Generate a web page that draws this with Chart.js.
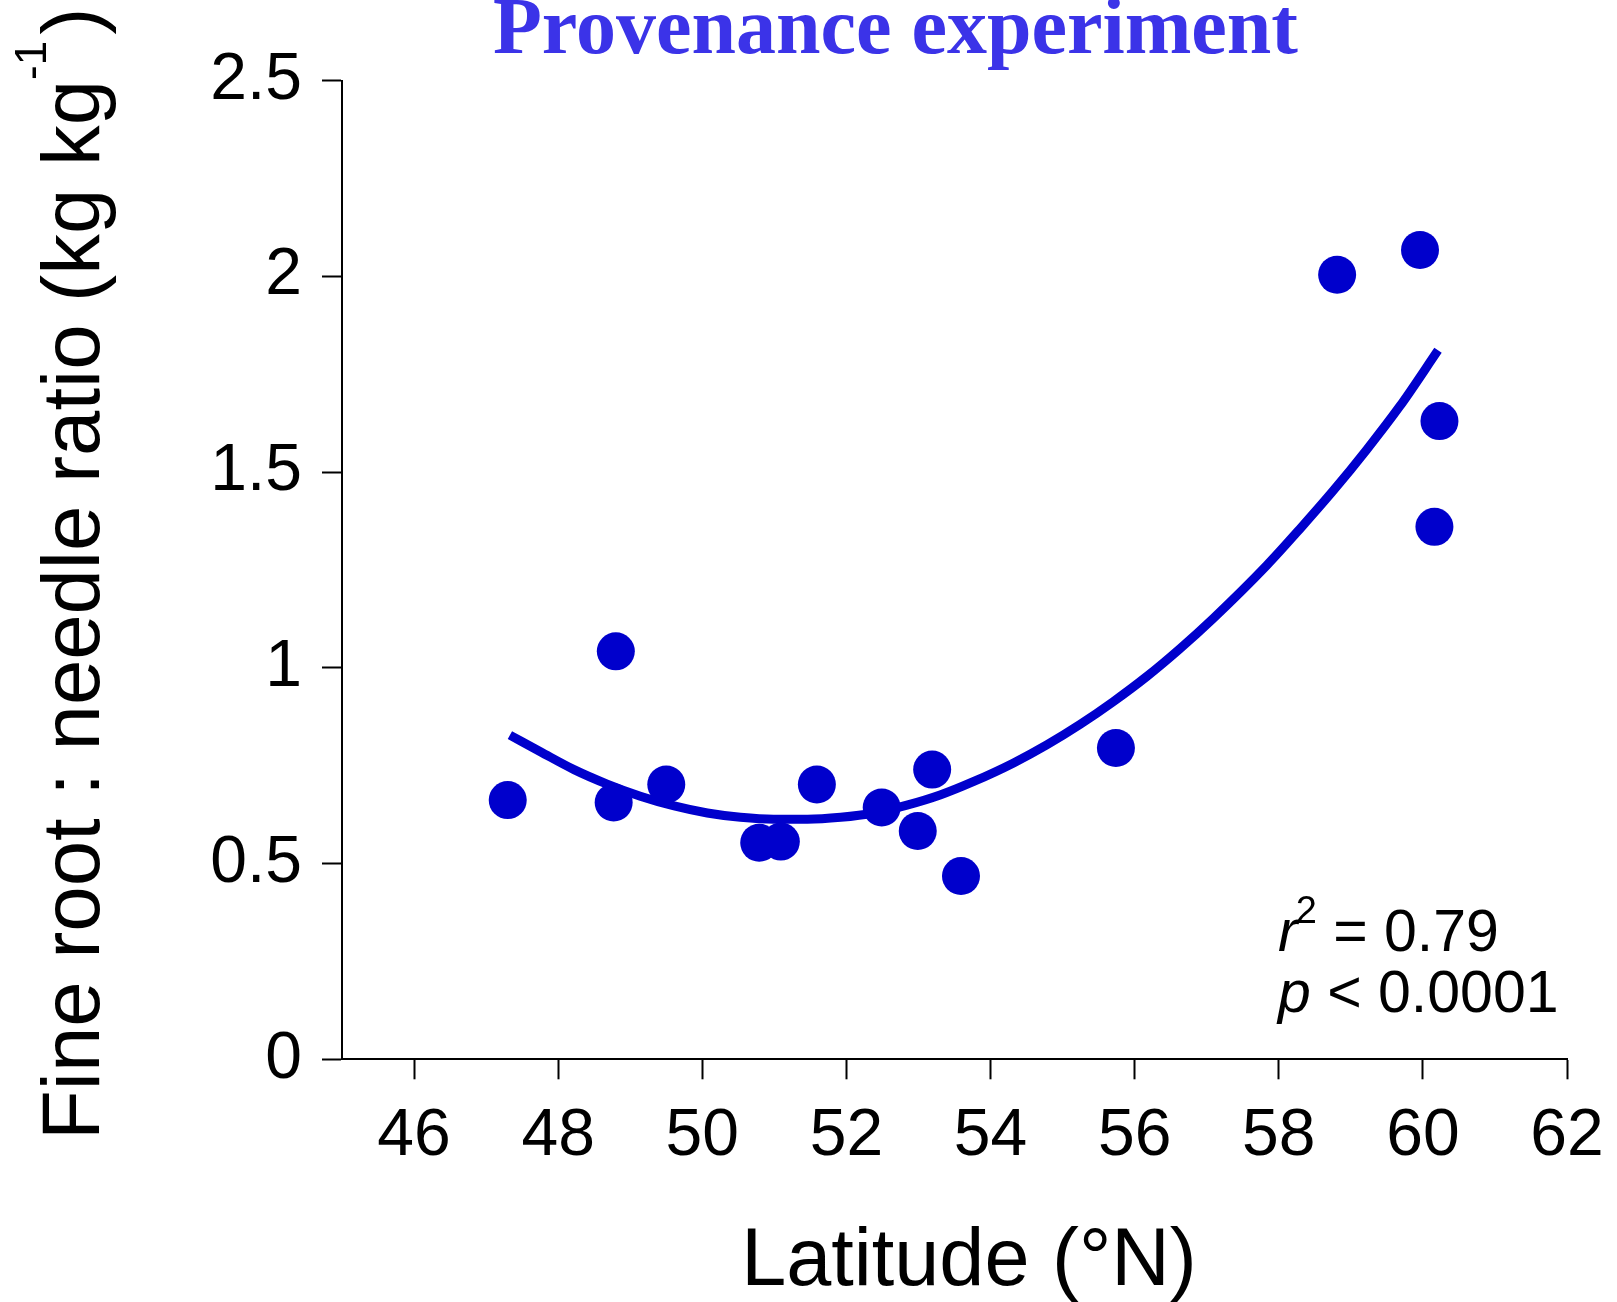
<!DOCTYPE html>
<html>
<head>
<meta charset="utf-8">
<title>Provenance experiment</title>
<script src="https://cdn.jsdelivr.net/npm/chart.js@4.4.1/dist/chart.umd.min.js"></script>
<style>
  html, body { margin: 0; padding: 0; background: #fff; }
  #wrap { width: 1617px; height: 1302px; }
</style>
</head>
<body>
<div id="wrap"><canvas id="chart" width="1617" height="1302"></canvas></div>
<script>
// Observed provenances
const latitude = [47.30, 48.80, 48.77, 49.50, 50.79, 51.09, 51.59, 52.49, 52.99, 53.19, 53.59, 55.74, 58.81, 59.96, 60.23, 60.16];
const ratio    = [0.662, 1.042, 0.656, 0.702, 0.553, 0.556, 0.702, 0.643, 0.583, 0.740, 0.468, 0.795, 2.004, 2.067, 1.630, 1.360];

// Fitted curve
const fitLat   = [47.33, 47.76, 48.22, 48.68, 49.14, 49.61, 50.07, 50.53, 50.99, 51.46, 51.92, 52.38, 52.84, 53.30, 53.76, 54.32, 54.78, 55.24, 55.70, 56.17, 56.63, 57.09, 57.83, 58.29, 58.75, 59.22, 59.68, 60.21];
const fitRatio = [0.828, 0.785, 0.740, 0.703, 0.672, 0.647, 0.629, 0.618, 0.613, 0.613, 0.618, 0.629, 0.649, 0.675, 0.709, 0.757, 0.803, 0.855, 0.913, 0.978, 1.049, 1.126, 1.261, 1.354, 1.451, 1.557, 1.668, 1.811];

const xTicks = [46, 48, 50, 52, 54, 56, 58, 60, 62];
const yTicks = [0, 0.5, 1, 1.5, 2, 2.5];

const titleText = "Provenance experiment";
const xTitle = "Latitude (°N)";
const yTitle = "Fine root : needle ratio (kg kg";
const yTitleSup = "-1";
const yTitleEnd = ")";
const statR2 = "0.79";
const statP = "0.0001";

const C = {
  point: "#0000CC",
  title: "#3B33E8",
  ink:   "#000000",
};
const SANS = "'Liberation Sans', Arial, sans-serif";
const SERIF = "'Liberation Serif', 'Times New Roman', serif";

// chart area box (px) so the axes land where the original has them
const AREA = { left: 342, right: 1567, top: 80.5, bottom: 1059.3 };
const W = 1617, H = 1302;

// Titles and the r²/p note are drawn by hand: Chart.js has no superscripts
const textPlugin = {
  id: "figText",
  afterDraw(chart) {
    const ctx = chart.ctx;
    ctx.save();
    ctx.textBaseline = "alphabetic";
    ctx.textAlign = "left";

    // title
    ctx.fillStyle = C.title;
    ctx.font = `bold 80px ${SERIF}`;
    ctx.fillText(titleText, 493, 52.7);

    ctx.fillStyle = C.ink;

    // x title
    ctx.font = `81px ${SANS}`;
    ctx.textAlign = "center";
    ctx.fillText(xTitle, 969, 1285);
    ctx.textAlign = "left";

    // y title, rotated
    ctx.save();
    ctx.translate(99, 1140);
    ctx.rotate(-Math.PI / 2);
    ctx.font = `81.5px ${SANS}`;
    ctx.fillText(yTitle, 0, 0);
    let dx = ctx.measureText(yTitle).width;
    ctx.font = `44px ${SANS}`;
    ctx.fillText(yTitleSup, dx, -53);
    dx += ctx.measureText(yTitleSup).width;
    ctx.font = `81.5px ${SANS}`;
    ctx.fillText(yTitleEnd, dx + 6, 0);
    ctx.restore();

    // r² and p
    let x = 1278;
    ctx.font = `italic 59px ${SANS}`;
    ctx.fillText("r", x, 951);
    x += ctx.measureText("r").width;
    ctx.font = `38px ${SANS}`;
    ctx.fillText("2", x - 2, 923);
    x += ctx.measureText("2").width - 2;
    ctx.font = `59px ${SANS}`;
    ctx.fillText(" = " + statR2, x, 951);

    x = 1278;
    ctx.font = `italic 59px ${SANS}`;
    ctx.fillText("p", x, 1011.7);
    x += ctx.measureText("p").width;
    ctx.font = `59px ${SANS}`;
    ctx.fillText(" < " + statP, x, 1011.7);

    ctx.restore();
  },
};

const axisCommon = {
  type: "linear",
  grid: {
    drawOnChartArea: false,
    drawTicks: true,
    tickLength: 20,
    tickWidth: 2,
    tickColor: C.ink,
  },
  border: { display: true, color: C.ink, width: 2 },
};

new Chart(document.getElementById("chart"), {
  type: "scatter",
  data: {
    datasets: [
      {
        label: "Observed",
        data: latitude.map((v, i) => ({ x: v, y: ratio[i] })),
        backgroundColor: C.point,
        borderColor: C.point,
        borderWidth: 0,
        pointRadius: 19,
        pointHoverRadius: 19,
        order: 0,
      },
      {
        label: "Quadratic fit",
        data: fitLat.map((v, i) => ({ x: v, y: fitRatio[i] })),
        showLine: true,
        borderColor: C.point,
        borderWidth: 9,
        borderCapStyle: "butt",
        cubicInterpolationMode: "monotone",
        pointRadius: 0,
        pointHoverRadius: 0,
        order: 1,
      },
    ],
  },
  options: {
    responsive: false,
    animation: false,
    events: [],
    layout: { padding: { left: 0, top: AREA.top, right: W - AREA.right, bottom: 0 } },
    plugins: {
      legend: { display: false },
      tooltip: { enabled: false },
      title: { display: false },
    },
    scales: {
      x: {
        ...axisCommon,
        position: "bottom",
        min: 45,
        max: 62,
        afterBuildTicks: (s) => { s.ticks = xTicks.map((v) => ({ value: v })); },
        // fixed height; drop the label overhang so the right edge stays put
        afterFit: (s) => { s.height = H - AREA.bottom; s.paddingLeft = 0; s.paddingRight = 0; },
        ticks: {
          autoSkip: false,
          maxRotation: 0,
          padding: 18,
          color: C.ink,
          font: { family: SANS, size: 66 },
          callback: (v) => String(v),
        },
      },
      y: {
        ...axisCommon,
        position: "left",
        min: 0,
        max: 2.5,
        afterBuildTicks: (s) => { s.ticks = yTicks.map((v) => ({ value: v })); },
        afterFit: (s) => { s.width = AREA.left; s.paddingTop = 0; s.paddingBottom = 0; },
        ticks: {
          autoSkip: false,
          padding: 20,
          color: C.ink,
          font: { family: SANS, size: 66 },
          callback: (v) => String(v),
        },
      },
    },
  },
  plugins: [textPlugin],
});
</script>
</body>
</html>
